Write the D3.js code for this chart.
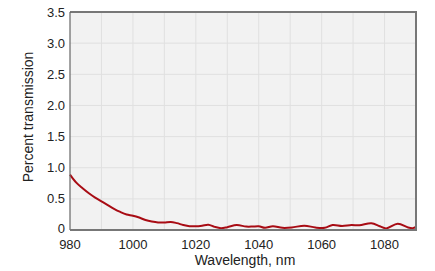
<!DOCTYPE html>
<html>
<head>
<meta charset="utf-8">
<script src="https://cdn.jsdelivr.net/npm/d3@7"></script>
<style>
  html, body { margin: 0; padding: 0; background: #fff; }
  svg { display: block; }
  text { font-family: "Liberation Sans", Arial, sans-serif; fill: #222; }
</style>
</head>
<body>
<svg id="chart" width="435" height="271"></svg>
<script>
const wavelengths = [980, 982, 984, 986, 988, 990, 992, 994, 996, 998, 1000, 1002, 1004, 1006, 1008, 1010, 1012, 1014, 1016, 1018, 1020, 1022, 1024, 1026, 1028, 1030, 1033, 1036, 1038, 1040, 1042, 1044.5, 1047.5, 1050.5, 1054.5, 1058, 1061, 1063.5, 1066.5, 1069.5, 1072, 1075.8, 1078.5, 1080.5, 1084.2, 1087.5, 1089, 1090];
const transmission = [0.89, 0.76, 0.67, 0.59, 0.52, 0.46, 0.40, 0.34, 0.29, 0.25, 0.23, 0.20, 0.16, 0.135, 0.12, 0.12, 0.13, 0.11, 0.08, 0.06, 0.06, 0.07, 0.085, 0.05, 0.03, 0.045, 0.08, 0.055, 0.055, 0.06, 0.035, 0.06, 0.035, 0.04, 0.07, 0.04, 0.035, 0.08, 0.065, 0.08, 0.075, 0.11, 0.06, 0.025, 0.10, 0.04, 0.03, 0.05];
const xTickLabels = [980, 1000, 1020, 1040, 1060, 1080];
const xGrid = [990, 1000, 1010, 1020, 1030, 1040, 1050, 1060, 1070, 1080];
const yTickLabels = [0, 0.5, 1.0, 1.5, 2.0, 2.5, 3.0, 3.5];

const svg = d3.select("#chart");
const L = 70, R = 416, T = 12, B = 230;
const x = d3.scaleLinear().domain([980, 1090]).range([L, R]);
const y = d3.scaleLinear().domain([0, 3.5]).range([B, T]);

svg.append("rect").attr("x", L).attr("y", T).attr("width", R - L).attr("height", B - T).attr("fill", "#f2f2f2");

// grid
svg.append("g").selectAll("line").data(xGrid).join("line")
  .attr("x1", d => x(d)).attr("x2", d => x(d)).attr("y1", T).attr("y2", B)
  .attr("stroke", "#e0e0e0").attr("stroke-width", 1);
svg.append("g").selectAll("line").data(yTickLabels.slice(1, -1)).join("line")
  .attr("x1", L).attr("x2", R).attr("y1", d => y(d)).attr("y2", d => y(d))
  .attr("stroke", "#e0e0e0").attr("stroke-width", 1);

// curve
const pts = wavelengths.map((w, i) => [w, transmission[i]]);
svg.append("path").datum(pts)
  .attr("d", d3.line().x(d => x(d[0])).y(d => y(d[1])).curve(d3.curveCatmullRom.alpha(0.5)))
  .attr("fill", "none").attr("stroke", "#a80c14").attr("stroke-width", 2);

// frame
svg.append("line").attr("x1", L).attr("x2", R + 1).attr("y1", T).attr("y2", T).attr("stroke", "#777").attr("stroke-width", 2);
svg.append("line").attr("x1", R).attr("x2", R).attr("y1", T).attr("y2", B).attr("stroke", "#777").attr("stroke-width", 2);
svg.append("line").attr("x1", L).attr("x2", L).attr("y1", T).attr("y2", B).attr("stroke", "#666").attr("stroke-width", 1.2);
svg.append("line").attr("x1", L).attr("x2", R + 1).attr("y1", B).attr("y2", B).attr("stroke", "#777").attr("stroke-width", 2);

// x axis labels
svg.append("g").selectAll("text").data(xTickLabels).join("text")
  .attr("x", d => x(d)).attr("y", 249).attr("text-anchor", "middle")
  .attr("font-size", 13).text(d => d);

// y axis labels
svg.append("g").selectAll("text").data(yTickLabels).join("text")
  .attr("x", 65).attr("y", d => Math.min(y(d) + 4.5, 233)).attr("text-anchor", "end")
  .attr("font-size", 13).text(d => d === 0 ? "0" : d.toFixed(1));

svg.append("text").attr("x", (L + R) / 2 + 2).attr("y", 265).attr("text-anchor", "middle")
  .attr("font-size", 14).text("Wavelength, nm");
svg.append("text").attr("transform", "translate(33,117) rotate(-90)").attr("text-anchor", "middle")
  .attr("font-size", 14).text("Percent transmission");
</script>
</body>
</html>
